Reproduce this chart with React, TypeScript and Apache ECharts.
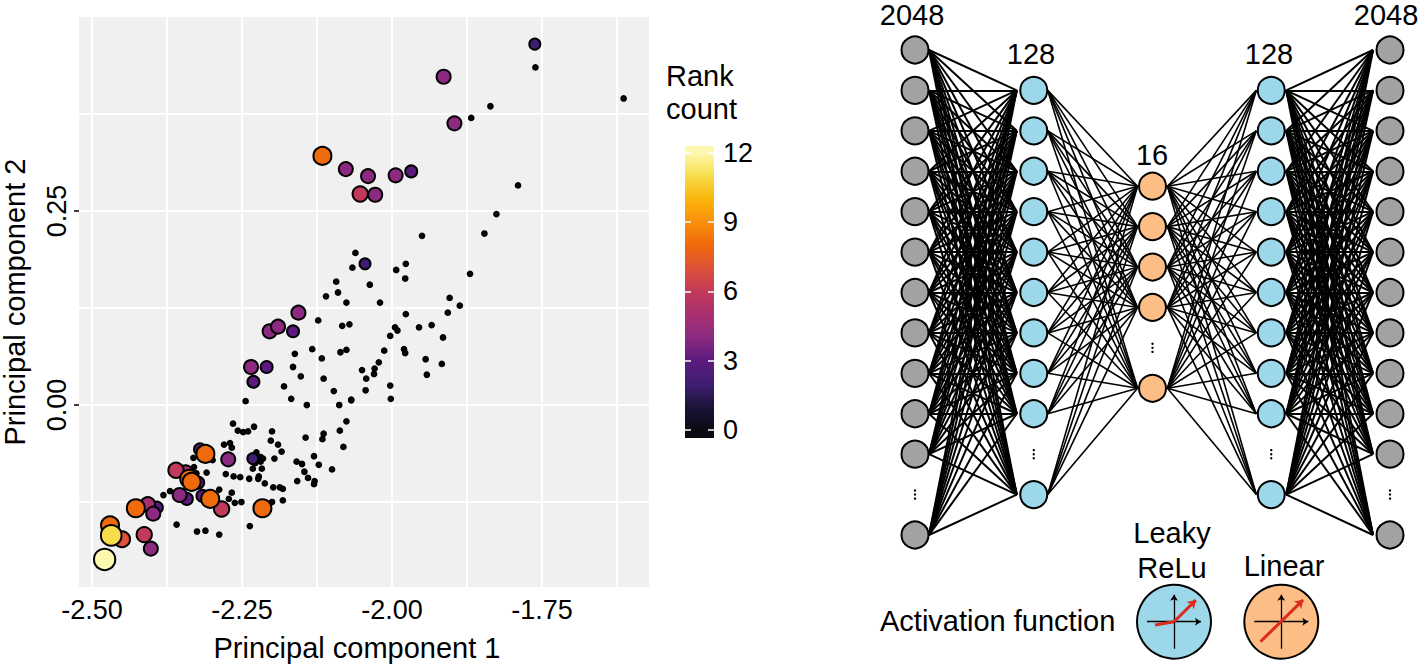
import React, { useEffect, useRef } from "react";
import * as echarts from "echarts";

// ---------- Scatter data (PC1, PC2) ----------
const unrankedPc1 = [
  -1.761, -1.614, -1.836, -1.868, -1.79, -1.826, -1.846, -1.95, -2.061, -2.066, -1.993, -1.977, -1.978, -1.87, -2.093, -2.037,
  -2.09, -2.11, -2.076, -2.02, -1.904, -1.887, -1.907, -1.977, -2.123, -2.083, -2.071, -1.995, -1.991, -1.955, -1.934, -2.003,
  -1.915, -2.133, -2.086, -2.076, -2.013, -1.98, -1.978, -2.162, -2.117, -1.944, -2.022, -1.917, -2.029, -2.05, -2.03, -2.165,
  -2.152, -2.043, -2.114, -1.942, -2.18, -2.003, -2.097, -2.044, -2.168, -2.068, -2.068, -2.002, -2.244, -2.142, -2.088, -2.076,
  -2.087, -2.114, -2.116, -2.144, -2.23, -2.24, -2.248, -2.257, -2.265, -2.2, -2.202, -2.19, -2.184, -2.081, -2.13, -2.196,
  -2.159, -2.15, -2.122, -2.1, -2.146, -2.14, -2.158, -2.129, -2.13, -2.198, -2.187, -2.182, -2.212, -2.222, -2.223, -2.238,
  -2.253, -2.264, -2.277, -2.226, -2.219, -2.215, -2.219, -2.217, -2.232, -2.228, -2.381, -2.37, -2.359, -2.325, -2.311, -2.288,
  -2.237, -2.33, -2.309, -2.331, -2.326, -2.299, -2.288, -2.267, -2.272, -2.262, -2.251, -2.2, -2.182, -2.28, -2.27, -2.267,
];
const unrankedPc2 = [
  0.435, 0.395, 0.385, 0.37, 0.283, 0.246, 0.221, 0.218, 0.196, 0.177, 0.174, 0.182, 0.163, 0.169, 0.159, 0.155,
  0.145, 0.14, 0.132, 0.132, 0.138, 0.128, 0.119, 0.117, 0.109, 0.102, 0.104, 0.1, 0.096, 0.1, 0.103, 0.089,
  0.087, 0.072, 0.068, 0.071, 0.07, 0.072, 0.067, 0.066, 0.06, 0.059, 0.055, 0.053, 0.047, 0.045, 0.04, 0.049,
  0.037, 0.034, 0.034, 0.039, 0.024, 0.025, 0.018, 0.019, 0.008, 0.007, 0.006, 0.008, 0.005, 0.0, 0.0, -0.021,
  -0.033, -0.037, -0.044, -0.042, -0.028, -0.034, -0.035, -0.033, -0.024, -0.034, -0.046, -0.051, -0.06, -0.054, -0.066, -0.069,
  -0.073, -0.076, -0.077, -0.083, -0.086, -0.094, -0.098, -0.098, -0.102, -0.106, -0.106, -0.108, -0.101, -0.092, -0.095, -0.095,
  -0.093, -0.092, -0.089, -0.061, -0.067, -0.069, -0.073, -0.082, -0.082, -0.075, -0.116, -0.111, -0.154, -0.163, -0.162, -0.167,
  -0.156, -0.08, -0.087, -0.068, -0.088, -0.071, -0.109, -0.113, -0.121, -0.126, -0.125, -0.125, -0.123, -0.051, -0.049, -0.055,
];
const rankedPc1 = [
  -1.762, -1.914, -1.896, -2.116, -2.077, -2.04, -1.994, -1.968, -2.028, -2.053, -2.045, -2.156, -2.204, -2.19, -2.165, -2.235,
  -2.209, -2.231, -2.232, -2.273, -2.32, -2.311, -2.344, -2.36, -2.323, -2.338, -2.334, -2.342, -2.354, -2.316, -2.284, -2.303,
  -2.216, -2.392, -2.407, -2.398, -2.427, -2.413, -2.402, -2.47, -2.45, -2.468, -2.479,
];
const rankedPc2 = [
  0.465, 0.423, 0.363, 0.321, 0.304, 0.295, 0.296, 0.301, 0.271, 0.272, 0.182, 0.119, 0.095, 0.101, 0.095, 0.049,
  0.049, 0.03, -0.069, -0.07, -0.057, -0.063, -0.087, -0.084, -0.1, -0.095, -0.099, -0.121, -0.116, -0.117, -0.134, -0.121,
  -0.133, -0.132, -0.128, -0.14, -0.133, -0.167, -0.185, -0.155, -0.173, -0.168, -0.199,
];
const rankCounts = [
  2, 4, 4, 8, 4, 4, 4, 3, 4, 6, 2, 4, 4, 4, 3, 4,
  3, 3, 2, 4, 3, 8, 5, 6, 3, 8, 8, 3, 4, 3, 6, 8,
  8, 3, 5, 4, 8, 6, 4, 8, 7, 11, 12,
];
const xTicks = [-2.5, -2.25, -2.0, -1.75];
const yTicks = [0, 0.25];
const xMinorGrid = [-2.375, -2.125, -1.875, -1.625];
const yMinorGrid = [-0.125, 0.125, 0.375];
const xRange = [-2.5217, -1.5717];
const yRange = [-0.2345, 0.5];

// ---------- Colour bar ----------
const rankPalette = [
  "#0a0a12", "#1c1338", "#3f1e72", "#5c1a7e", "#8c2a82", "#a93070", "#c23a5b",
  "#dd5238", "#ef6a0c", "#f98f0a", "#fbb50a", "#f7dd4b", "#fdf8b0",
];
const rankTicks = [0, 3, 6, 9, 12];
const barRange = [-0.346, 12.3];
const markerSizes = [4.7, 8, 11, 12, 14, 14.5, 15.3, 16, 18, 19, 19.5, 20.6, 21.3];

// ---------- Network ----------
const layerTitles = ["2048", "128", "16", "128", "2048"];
const outerSlots = [0, 1, 2, 3, 4, 5, 6, 7, 8, 9, 10, 12];
const innerSlots = [1, 2, 3, 4, 5, 6, 7, 8, 9, 11];
const bottleneckSlots = [3.37, 4.37, 5.37, 6.37, 8.37];
const ellipsisSlots = [11, 10, 7.37, 10, 11];
const ellipsisOffsets = [-0.1, 0, 0.1];
const layerFill = ["#a3a1a2", "#9cd8ea", "#fcbe85", "#9cd8ea", "#a3a1a2"];
const leakyCurve = [[-0.7, -0.12], [0, 0], [0.81, 0.8]];
const linearCurve = [[-0.77, -0.74], [0.81, 0.81]];

const FONT = '"Liberation Sans", Arial, sans-serif';

const buildEdges = (layer: number, from: number[], to: number[], startGap: number, endGap: number) => {
  const out: any[] = [];
  from.forEach((a) => to.forEach((b) => out.push({ coords: [[layer + startGap, a], [layer + 1 - endGap, b]] })));
  return out;
};

const textEl = (text: string, x: number, y: number, align: string, fontSize = 29) => ({
  type: "text",
  x,
  y,
  silent: true,
  style: { text, fill: "#000", font: `${fontSize}px ${FONT}`, align, verticalAlign: "middle" },
});

const iconSeries = (gridIndex: number, fill: string, curve: number[][]) => {
  const segments = curve.slice(1).map((p, i) => ({ coords: [curve[i], p] }));
  return [
    {
      type: "scatter", xAxisIndex: gridIndex, yAxisIndex: gridIndex, data: [[0, 0]], symbolSize: 74, silent: true, z: 2,
      itemStyle: { color: fill, borderColor: "#000", borderWidth: 2, opacity: 1 },
    },
    {
      type: "lines", coordinateSystem: "cartesian2d", xAxisIndex: gridIndex, yAxisIndex: gridIndex, silent: true, z: 3,
      symbol: ["none", "arrow"], symbolSize: 6,
      lineStyle: { color: "#000", width: 1.3, opacity: 1, curveness: 0 },
      data: [{ coords: [[-1, 0], [1, 0]] }, { coords: [[0, -1], [0, 1]] }],
    },
    {
      type: "lines", coordinateSystem: "cartesian2d", xAxisIndex: gridIndex, yAxisIndex: gridIndex, silent: true, z: 4,
      symbol: "none",
      lineStyle: { color: "#dd2b20", width: 3, opacity: 1, curveness: 0 },
      data: segments.slice(0, -1),
    },
    {
      type: "lines", coordinateSystem: "cartesian2d", xAxisIndex: gridIndex, yAxisIndex: gridIndex, silent: true, z: 4,
      symbol: ["none", "arrow"], symbolSize: 8,
      lineStyle: { color: "#dd2b20", width: 3, opacity: 1, curveness: 0 },
      data: segments.slice(-1),
    },
  ];
};

const hiddenAxis = (gridIndex: number, min: number, max: number, extra: any = {}) => ({
  type: "value", gridIndex, min, max, show: false, ...extra,
});

export default function App() {
  const ref = useRef<HTMLDivElement>(null);
  useEffect(() => {
    const chart = echarts.init(ref.current!, undefined, { renderer: "svg" });
    const layers = [outerSlots, innerSlots, bottleneckSlots, innerSlots, outerSlots];
    const scatterData = [
      ...unrankedPc1.map((x, i) => [x, unrankedPc2[i], 0]),
      ...rankedPc1.map((x, i) => [x, rankedPc2[i], rankCounts[i]]),
    ];
    const gridLines = [
      ...[...xTicks, ...xMinorGrid].map((v) => ({ coords: [[v, yRange[0]], [v, yRange[1]]] })),
      ...[...yTicks, ...yMinorGrid].map((v) => ({ coords: [[xRange[0], v], [xRange[1], v]] })),
    ];
    const gapStart = [0.118, 0.118, 0.126, 0.126];
    const gapEnd = [0.143, 0.126, 0.126, 0.143];
    const edgeWidths = [2, 1.6, 1.6, 2];
    const stops = rankPalette.map((color, i) => ({
      offset: (i - barRange[0]) / (barRange[1] - barRange[0]),
      color,
    }));
    chart.setOption({
      animation: false,
      backgroundColor: "#fff",
      textStyle: { fontFamily: FONT },
      grid: [
        { left: 79, top: 17, width: 570, height: 570, show: true, backgroundColor: "#f0f0f0", borderWidth: 0, outerBoundsMode: "none" },
        { left: 685, top: 146, width: 29, height: 292, outerBoundsMode: "none" },
        { left: 915, top: 50, width: 475, height: 485, outerBoundsMode: "none" },
        { left: 1147, top: 594.7, width: 54, height: 54, outerBoundsMode: "none" },
        { left: 1254.3, top: 594.7, width: 54, height: 54, outerBoundsMode: "none" },
      ],
      xAxis: [
        {
          type: "value", gridIndex: 0, min: xRange[0], max: xRange[1],
          name: "Principal component 1", nameLocation: "middle", nameGap: 46,
          nameTextStyle: { fontSize: 29, color: "#000", fontFamily: FONT, padding: [0, 14, 0, 0] },
          axisLine: { show: false },
          axisTick: { show: true, length: 5, customValues: xTicks, lineStyle: { color: "#000", width: 1.5 } },
          axisLabel: { show: true, customValues: xTicks, fontSize: 27, color: "#000", margin: 9, fontFamily: FONT, formatter: (v: number) => v.toFixed(2) },
          splitLine: { show: false },
        },
        hiddenAxis(1, 0, 1),
        hiddenAxis(2, 0, 4),
        hiddenAxis(3, -1, 1),
        hiddenAxis(4, -1, 1),
      ],
      yAxis: [
        {
          type: "value", gridIndex: 0, min: yRange[0], max: yRange[1],
          name: "Principal component 2", nameLocation: "middle", nameGap: 50,
          nameTextStyle: { fontSize: 29, color: "#000", fontFamily: FONT },
          axisLine: { show: false },
          axisTick: { show: true, length: 5, customValues: yTicks, lineStyle: { color: "#000", width: 1.5 } },
          axisLabel: { show: true, customValues: yTicks, fontSize: 27, color: "#000", margin: 9, rotate: 90, fontFamily: FONT, formatter: (v: number) => v.toFixed(2) },
          splitLine: { show: false },
        },
        {
          type: "value", gridIndex: 1, min: barRange[0], max: barRange[1], position: "left", z: 5,
          axisLine: { show: false }, splitLine: { show: false }, axisLabel: { show: false },
          axisTick: { show: true, inside: true, length: 6, customValues: rankTicks, lineStyle: { color: "#fff", width: 1.5 } },
        },
        hiddenAxis(2, 0, 12, { inverse: true }),
        hiddenAxis(3, -1, 1),
        hiddenAxis(4, -1, 1),
        {
          type: "value", gridIndex: 1, min: barRange[0], max: barRange[1], position: "right", z: 5,
          axisLine: { show: false }, splitLine: { show: false },
          axisLabel: { show: true, customValues: rankTicks, fontSize: 27, color: "#000", margin: 9, fontFamily: FONT },
          axisTick: { show: true, inside: true, length: 6, customValues: rankTicks, lineStyle: { color: "#fff", width: 1.5 } },
        },
      ],
      visualMap: {
        show: false, type: "continuous", seriesIndex: 1, dimension: 2, min: 0, max: 12,
        inRange: { color: rankPalette },
      },
      series: [
        {
          type: "lines", coordinateSystem: "cartesian2d", xAxisIndex: 0, yAxisIndex: 0, silent: true, z: 1,
          lineStyle: { color: "#fff", width: 2, opacity: 1, curveness: 0 }, data: gridLines,
        },
        {
          type: "scatter", xAxisIndex: 0, yAxisIndex: 0, data: scatterData, silent: true, z: 2,
          symbol: "circle",
          symbolSize: (d: number[]) => markerSizes[d[2]],
          itemStyle: {
            opacity: 1,
            borderColor: "#000",
            borderWidth: 2,
          },
        },
        {
          type: "custom", xAxisIndex: 1, yAxisIndex: 1, silent: true, z: 2,
          data: [[0, 1, barRange[0], barRange[1]]],
          renderItem: (_p: any, api: any) => {
            const a = api.coord([api.value(0), api.value(3)]);
            const b = api.coord([api.value(1), api.value(2)]);
            return {
              type: "rect",
              shape: { x: a[0], y: a[1], width: b[0] - a[0], height: b[1] - a[1] },
              style: { fill: { type: "linear", x: 0, y: 1, x2: 0, y2: 0, colorStops: stops } },
            };
          },
        },
        ...layers.slice(0, 4).map((from, i) => ({
          type: "lines", coordinateSystem: "cartesian2d", xAxisIndex: 2, yAxisIndex: 2, silent: true, z: 2,
          lineStyle: { color: "#000", width: edgeWidths[i], opacity: 1, curveness: 0 },
          data: buildEdges(i, from, layers[i + 1], gapStart[i], gapEnd[i]),
        })),
        ...layers.map((slots, i) => ({
          type: "scatter", xAxisIndex: 2, yAxisIndex: 2, silent: true, z: 3, symbolSize: 27,
          data: slots.map((s) => [i, s]),
          itemStyle: { color: layerFill[i], borderColor: "#000", borderWidth: 2, opacity: 1 },
        })),
        {
          type: "scatter", xAxisIndex: 2, yAxisIndex: 2, silent: true, z: 3, symbolSize: 2.4,
          data: ellipsisSlots.flatMap((s, i) => ellipsisOffsets.map((o) => [i, s + o])),
          itemStyle: { color: "#000", opacity: 1 },
        },
        ...iconSeries(3, "#9cd8ea", leakyCurve),
        ...iconSeries(4, "#fcbe85", linearCurve),
      ],
      graphic: [
        textEl("Rank", 666, 76, "left"),
        textEl("count", 666, 109, "left"),
        textEl(layerTitles[0], 912, 14.5, "center"),
        textEl(layerTitles[1], 1031, 54, "center"),
        textEl(layerTitles[2], 1152, 155, "center"),
        textEl(layerTitles[3], 1269, 54, "center"),
        textEl(layerTitles[4], 1386, 14.5, "center"),
        textEl("Leaky", 1172, 533, "center"),
        textEl("ReLu", 1172, 568, "center"),
        textEl("Linear", 1284, 566, "center"),
        textEl("Activation function", 880, 621, "left"),
      ],
    });
    return () => chart.dispose();
  }, []);
  return <div ref={ref} style={{ position: "fixed", left: 0, top: 0, width: 1418, height: 665, background: "#fff" }} />;
}
